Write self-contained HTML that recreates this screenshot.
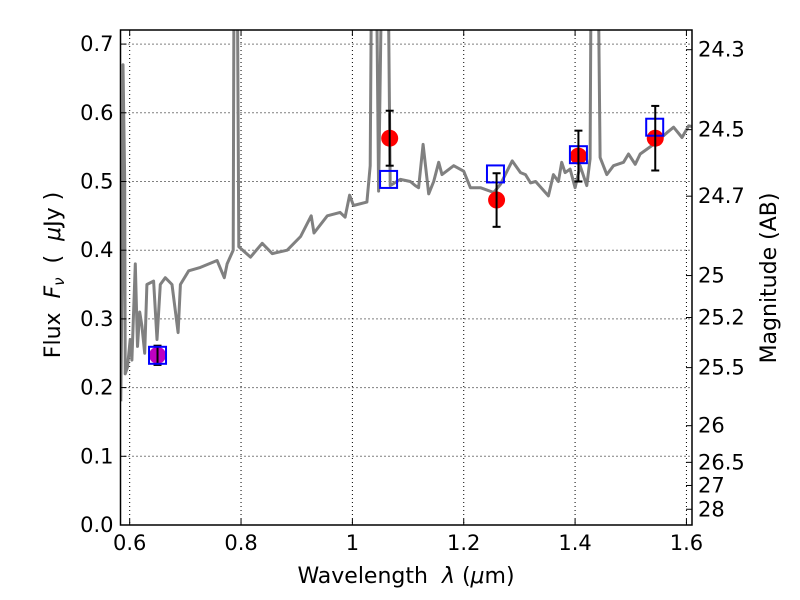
<!DOCTYPE html>
<html><head><meta charset="utf-8"><style>
body{margin:0;background:#fff;}
svg{display:block;font-family:"DejaVu Sans","Liberation Sans",sans-serif;}
</style></head><body>
<svg id="chart" width="800" height="600" viewBox="0 0 800 600" xmlns="http://www.w3.org/2000/svg">
<defs><clipPath id="plotclip"><rect x="120.5" y="30" width="571.5" height="495"/></clipPath></defs>
<rect x="0" y="0" width="800" height="600" fill="#fff"/>
<g id="grid"></g>
<g id="series" clip-path="url(#plotclip)"></g>
<g id="axes"></g>
<text x="406" y="583" font-size="22" text-anchor="middle" xml:space="preserve">Wavelength  <tspan font-style="italic">λ</tspan> (<tspan font-style="italic">μ</tspan>m)</text>
<text transform="translate(60,275) rotate(-90)" font-size="22" text-anchor="middle" xml:space="preserve">Flux  <tspan font-style="italic">F</tspan><tspan font-style="italic" font-size="15" dy="4">ν</tspan><tspan dy="-4">  (  </tspan><tspan font-style="italic">μ</tspan>Jy )</text>
<text transform="translate(776,278) rotate(-90)" font-size="22" text-anchor="middle">Magnitude (AB)</text>
</svg>
<script>
const specWl = [0.584,0.587,0.588,0.591,0.592,0.596,0.601,0.604,0.610,0.614,0.618,0.622,0.627,0.631,0.643,0.649,0.655,0.664,0.676,0.687,0.691,0.706,0.727,0.757,0.770,0.775,0.786,0.788,0.792,0.796,0.817,0.838,0.856,0.883,0.907,0.926,0.931,0.955,0.978,0.987,0.995,1.002,1.026,1.032,1.036,1.041,1.047,1.056,1.062,1.068,1.086,1.104,1.113,1.119,1.127,1.137,1.146,1.155,1.161,1.182,1.200,1.212,1.230,1.254,1.266,1.287,1.302,1.311,1.320,1.329,1.352,1.361,1.370,1.376,1.382,1.391,1.400,1.409,1.421,1.427,1.430,1.439,1.445,1.457,1.469,1.487,1.496,1.508,1.517,1.541,1.565,1.577,1.592,1.604,1.610];
const specFlux = [0.18,0.40,0.67,0.50,0.22,0.23,0.27,0.24,0.38,0.26,0.31,0.29,0.25,0.35,0.355,0.27,0.35,0.36,0.35,0.28,0.35,0.37,0.375,0.385,0.36,0.38,0.40,1.0,1.0,0.405,0.39,0.41,0.395,0.40,0.42,0.45,0.425,0.45,0.455,0.448,0.48,0.465,0.47,0.523,1.0,1.0,0.486,1.0,1.0,0.494,0.503,0.50,0.494,0.491,0.554,0.482,0.50,0.528,0.51,0.523,0.515,0.491,0.491,0.484,0.496,0.53,0.513,0.51,0.498,0.50,0.479,0.51,0.50,0.528,0.513,0.518,0.491,0.523,0.494,0.533,1.0,1.0,0.535,0.51,0.523,0.528,0.54,0.525,0.54,0.554,0.571,0.579,0.564,0.581,0.58];
const obsWl = [1.067,1.259,1.406,1.544];
const obsFlux = [0.563,0.473,0.537,0.563];
const obsErr = [0.040,0.039,0.037,0.047];
const purpleWl = [0.650];
const purpleFlux = [0.247];
const purpleErr = [0.014];
const modelWl = [0.650,1.065,1.257,1.406,1.543];
const modelFlux = [0.247,0.503,0.511,0.539,0.579];
const xTicks = [0.6,0.8,1.0,1.2,1.4,1.6];
const xTickLabels = ["0.6","0.8","1","1.2","1.4","1.6"];
const yTicks = [0,0.1,0.2,0.3,0.4,0.5,0.6,0.7];
const yTickLabels = ["0.0","0.1","0.2","0.3","0.4","0.5","0.6","0.7"];
const magTicks = [24.3,24.5,24.7,25,25.2,25.5,26,26.5,27,28];
const magTickLabels = ["24.3","24.5","24.7","25","25.2","25.5","26","26.5","27","28"];

const L=120.5,R=692,T=30,B=525, X0=0.5835,X1=1.610,Y0=0,Y1=0.7205;
const NS="http://www.w3.org/2000/svg";
function xs(v){return L+(v-X0)/(X1-X0)*(R-L);}
function ys(v){return B-(v-Y0)/(Y1-Y0)*(B-T);}
function magToFlux(m){return Math.pow(10,(23.9-m)/2.5);}
function mk(tag,attrs,parent){const e=document.createElementNS(NS,tag);for(const k in attrs)e.setAttribute(k,attrs[k]);parent.appendChild(e);return e;}
const grid=document.getElementById('grid'),series=document.getElementById('series'),axes=document.getElementById('axes');

xTicks.forEach((t,i)=>{
  const g=mk('line',{x1:xs(t),x2:xs(t),y1:T,y2:B,stroke:'#000','stroke-width':1,'stroke-dasharray':'1,3'},grid);
  
  
  const tk=mk('line',{x1:xs(t),x2:xs(t),y1:B,y2:B-6,stroke:'#000','stroke-width':1},axes);
  
  
  const tk2=mk('line',{x1:xs(t),x2:xs(t),y1:T,y2:T+6,stroke:'#000','stroke-width':1},axes);
  
  
  const lb=mk('text',{x:xs(t),y:B+25,'font-size':21,'text-anchor':'middle'},axes);
  lb.textContent=xTickLabels[i];
  
  
});
yTicks.forEach((t,i)=>{
  const g=mk('line',{x1:L,x2:R,y1:ys(t),y2:ys(t),stroke:'#000','stroke-width':1,'stroke-dasharray':'1,3'},grid);
  
  
  const tk=mk('line',{x1:L,x2:L+6,y1:ys(t),y2:ys(t),stroke:'#000','stroke-width':1},axes);
  
  
  const lb=mk('text',{x:L-7,y:ys(t)+7,'font-size':21,'text-anchor':'end'},axes);
  lb.textContent=yTickLabels[i];
  
  
});
magTicks.forEach((m,i)=>{
  const y=ys(magToFlux(m));
  const tk=mk('line',{x1:R,x2:R-6,y1:y,y2:y,stroke:'#000','stroke-width':1},axes);
  
  
  const lb=mk('text',{x:R+6,y:y+7,'font-size':21,'text-anchor':'start'},axes);
  lb.textContent=magTickLabels[i];
  
  
});

const pts=specWl.map((w,i)=>xs(w).toFixed(1)+','+ys(specFlux[i]).toFixed(1)).join(' ');
const spec=mk('polyline',{points:pts,fill:'none',stroke:'#808080','stroke-width':3,'stroke-linejoin':'round'},series);



function errbar(w,f,e,name){
  const x=xs(w),y1=ys(f+e),y2=ys(f-e);
  const g=mk('g',{stroke:'#000','stroke-width':2},series);
  
  
  mk('line',{x1:x,x2:x,y1:y1,y2:y2},g);
  mk('line',{x1:x-4,x2:x+4,y1:y1,y2:y1},g);
  mk('line',{x1:x-4,x2:x+4,y1:y2,y2:y2},g);
}
purpleWl.forEach((w,i)=>{
  const c=mk('circle',{cx:xs(w),cy:ys(purpleFlux[i]),r:8.5,fill:'#bf00bf'},series);
  
  
  errbar(w,purpleFlux[i],purpleErr[i],'purple-errorbar');
});
obsWl.forEach((w,i)=>{
  const c=mk('circle',{cx:xs(w),cy:ys(obsFlux[i]),r:8.5,fill:'#ff0000'},series);
  
  
});
modelWl.forEach((w,i)=>{
  const s=mk('rect',{x:xs(w)-8.5,y:ys(modelFlux[i])-8.5,width:17,height:17,fill:'none',stroke:'#0000ff','stroke-width':2},series);
  
  
});
obsWl.forEach((w,i)=>{errbar(w,obsFlux[i],obsErr[i],'observed-errorbar');});

const fr=mk('rect',{x:L,y:T,width:R-L,height:B-T,fill:'none',stroke:'#000','stroke-width':1.5},axes);


</script>
</body></html>
